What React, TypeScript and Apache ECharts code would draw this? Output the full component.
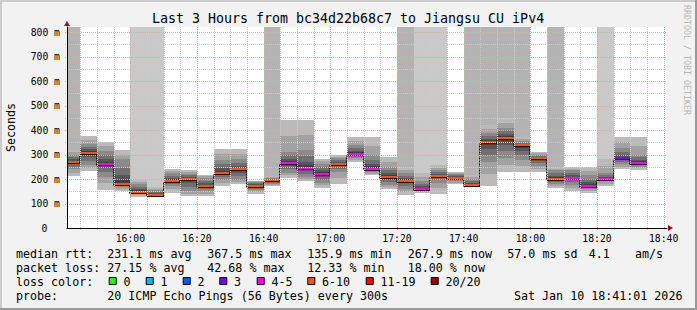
import React, { useEffect, useRef } from 'react';
import * as echarts from 'echarts';

const FONT = '"DejaVu Sans Mono", monospace';

// 5-minute bins (first one partial)
const binStarts = ['15:41','15:45','15:50','15:55','16:00','16:05','16:10','16:15','16:20','16:25','16:30','16:35','16:40','16:45','16:50','16:55','17:00','17:05','17:10','17:15','17:20','17:25','17:30','17:35','17:40','17:45','17:50','17:55','18:00','18:05','18:10','18:15','18:20','18:25','18:30'];
const lastBinEnd = '18:35';
const axisStart = '15:41';
const axisEnd = '18:41';

// values in ms
const medianRtt = [270,308,263,180,149,136,194,202,172,226,239,173,196,267,245,221,263,304,243,210,194,161,213,206,176,352,368,337,284,202,206,172,202,286,267];
const minRtt    = [213,234,156,150,128,128,145,131,131,173,179,138,170,206,190,165,180,271,217,161,136,142,139,179,167,173,230,230,230,165,153,142,173,240,237];
const lowerRtt  = [240,258,210,167,140,132,170,150,150,196,196,155,180,224,210,183,230,285,228,176,160,150,185,190,170,270,285,278,255,180,175,160,190,260,250];
const upperRtt  = [300,345,315,281,180,155,225,222,205,278,282,188,205,312,319,262,285,339,299,251,225,190,235,220,200,390,410,355,300,235,235,215,225,326,300];
const maxRtt    = [318,377,352,319,196,167,243,235,217,323,323,194,213,441,441,282,299,372,372,292,251,226,258,229,217,421,448,371,312,251,251,251,282,373,373];
// smoke of lost pings reaching the top: 0 none, 1 dark, 2 light
const lostSmoke = [1,0,0,0,2,2,0,0,0,0,0,0,1,0,0,0,0,0,0,0,1,2,2,0,1,1,1,1,0,1,0,0,2,0,0];
// index into lossLabels
const lossClass = [5,5,4,5,5,5,5,5,5,5,5,5,5,4,4,4,5,4,4,5,5,4,5,5,5,5,5,5,5,5,4,4,4,3,4];

const xTickLabels = ['16:00','16:20','16:40','17:00','17:20','17:40','18:00','18:20','18:40'];
const yTickValues = [0,100,200,300,400,500,600,700,800];

const lossLabels = ['0','1','2','3','4-5','6-10','11-19','20/20'];
const lossColors = ['#26ff00','#00b8ff','#0059ff','#7e00ff','#ff00ff','#ff5500','#ff0000','#a10000'];

const rttStats = ['231.1 ms avg','367.5 ms max','135.9 ms min','267.9 ms now','57.0 ms sd'];
const lossStats = ['27.15 % avg','42.68 % max','12.33 % min','18.00 % now'];
const amPerSec = '4.1';
const probeText = '20 ICMP Echo Pings (56 Bytes) every 300s';
const stampText = 'Sat Jan 10 18:41:01 2026';
const titleText = 'Last 3 Hours from bc34d22b68c7 to Jiangsu CU iPv4';

const toMin = (s: string) => { const [h, m] = s.split(':').map(Number); return h * 60 + m; };
const X_MIN = toMin(axisStart);
const X_MAX = toMin(axisEnd);
const Y_MAX = 821;

const smokeColors = ['#bababa', '#a2a2a2', '#8a8a8a', '#707070', '#565656', '#3e3e3e'];
const lostColors = ['', '#b3b3b3', '#c9c9c9'];

export default function App() {
  const ref = useRef<HTMLDivElement>(null);
  useEffect(() => {
    const chart = echarts.init(ref.current!, null, { renderer: 'svg' });

    const smokeData = binStarts.map((s, i) => [
      toMin(s),
      toMin(i + 1 < binStarts.length ? binStarts[i + 1] : lastBinEnd),
      minRtt[i], lowerRtt[i], medianRtt[i], upperRtt[i], maxRtt[i], lostSmoke[i], lossClass[i],
    ]);

    const gridData: number[][] = [];
    for (let t = toMin('15:45'); t <= toMin('18:40'); t += 5) gridData.push([t, 1, t % 20 === 0 ? 1 : 0]);
    for (let v = 50; v <= 800; v += 50) gridData.push([v, 0, v % 100 === 0 ? 1 : 0]);

    const tickMinutes = xTickLabels.map(toMin);

    const lx = [16, 107.3, 207.3, 307.3, 407.7, 507.3];
    const boxX = [108.7, 145.7, 182.7, 219.3, 256.7, 307.3, 365.7, 430.7];
    const legendFont = `11.67px ${FONT}`;
    const txt = (text: string, x: number, y: number, extra: any = {}) => ({
      type: 'text', x, y, silent: true,
      style: { text, font: legendFont, fill: '#000', textVerticalAlign: 'middle', ...extra },
    });

    const graphics: any[] = [
      // frame
      { type: 'rect', shape: { x: 0, y: 0, width: 697, height: 2 }, style: { fill: '#cbcbcb' } },
      { type: 'rect', shape: { x: 0, y: 0, width: 2, height: 310 }, style: { fill: '#cbcbcb' } },
      { type: 'rect', shape: { x: 0, y: 308, width: 697, height: 2 }, style: { fill: '#999999' } },
      { type: 'rect', shape: { x: 695, y: 0, width: 2, height: 310 }, style: { fill: '#999999' } },
      // arrows
      { type: 'polygon', z: 100, shape: { points: [[668, 225], [668, 231], [673, 228]] }, style: { fill: '#a01010' } },
      { type: 'polygon', z: 100, shape: { points: [[64, 26], [70, 26], [67, 21]] }, style: { fill: '#a01010' } },
      // watermark
      { type: 'text', x: 687, y: 60, rotation: -Math.PI / 2, silent: true,
        style: { text: 'RRDTOOL / TOBI OETIKER', font: `8.3px ${FONT}`, fill: '#b8b8b8', textAlign: 'center', textVerticalAlign: 'middle' } },
      // title
      { type: 'text', x: 348, y: 18.5, silent: true,
        style: { text: titleText, font: `13.3px ${FONT}`, fill: '#000', textAlign: 'center', textVerticalAlign: 'middle' } },
      // legend line 1
      txt('median rtt:', lx[0], 254),
      ...rttStats.map((s, i) => txt(s, lx[i + 1], 254)),
      txt(amPerSec, 588.7, 254),
      txt('am/s', 635, 254),
      // line 2
      txt('packet loss:', lx[0], 268),
      ...lossStats.map((s, i) => txt(s, lx[i + 1], 268)),
      // line 3
      txt('loss color:', lx[0], 282),
      ...lossLabels.map((l, i) => ({
        type: 'rect', shape: { x: boxX[i] + 0.5, y: 277.5, width: 7, height: 7 },
        style: { fill: lossColors[i], stroke: '#000', lineWidth: 1 },
      })),
      ...lossLabels.map((l, i) => txt(l, boxX[i] + 14.7, 282)),
      // line 4
      txt('probe:', lx[0], 296),
      txt(probeText, lx[1], 296),
      txt(stampText, 514, 296),
    ];

    const option: any = {
      animation: false,
      backgroundColor: '#f2f2f2',
      grid: {
        left: 67, top: 27, width: 600, height: 201, show: true, backgroundColor: '#ffffff', borderWidth: 0,
        containLabel: false, outerBoundsMode: 'none',
      },
      xAxis: {
        type: 'value', min: X_MIN, max: X_MAX, interval: 1, z: 10,
        axisLine: { show: true, lineStyle: { color: '#000', width: 1 } },
        axisTick: { show: false },
        splitLine: { show: false },
        axisLabel: {
          showMinLabel: false, showMaxLabel: false, hideOverlap: false,
          formatter: (v: number) => { const i = tickMinutes.indexOf(Math.round(v)); return i >= 0 ? xTickLabels[i] : ''; },
          fontFamily: FONT, fontSize: 9.75, color: '#000', margin: 5,
        },
      },
      yAxis: {
        type: 'value', min: 0, max: Y_MAX, interval: 100, z: 10,
        name: 'Seconds', nameLocation: 'middle', nameGap: 50, nameRotate: 90,
        nameTextStyle: { fontFamily: FONT, fontSize: 11.67, color: '#000' },
        axisLine: { show: true, lineStyle: { color: '#000', width: 1 } },
        axisTick: { show: false },
        splitLine: { show: false },
        axisLabel: {
          showMaxLabel: false,
          formatter: (v: number) => {
            if (yTickValues.indexOf(v) < 0) return '';
            return v === 0 ? '{z|0}' : `${v} m`;
          },
          rich: { z: { fontFamily: FONT, fontSize: 9.75, color: '#000', padding: [0, 12.7, 0, 0] } },
          fontFamily: FONT, fontSize: 9.75, color: '#000', margin: 7,
        },
      },
      series: [
        {
          type: 'custom', name: 'smoke', z: 2, silent: true,
          data: smokeData,
          encode: { x: [0, 1], y: [2, 6] },
          renderItem: (params: any, api: any) => {
            const i = params.dataIndex;
            const t0 = api.value(0), t1 = api.value(1);
            const x0 = Math.round(api.coord([t0, 0])[0]);
            const x1 = Math.round(api.coord([t1, 0])[0]);
            const w = x1 - x0;
            const Y = (v: number) => api.coord([t0, v])[1];
            const lo = api.value(2), q1 = api.value(3), md = api.value(4), q3 = api.value(5), hi = api.value(6);
            const lost = api.value(7), lc = api.value(8);
            const band = (a: number, b: number, fill: string) => {
              const ya = Math.round(Y(a)), yb = Math.round(Y(b));
              return { type: 'rect', shape: { x: x0, y: yb, width: w, height: Math.max(1, ya - yb) }, style: { fill } };
            };
            const mix = (a: number, b: number, f: number) => a + (b - a) * f;
            const ch: any[] = [];
            if (lost) ch.push(band(hi, Y_MAX, lostColors[lost]));
            ch.push(band(lo, hi, smokeColors[0]));
            ch.push(band(mix(lo, q1, 0.5), mix(hi, q3, 0.5), smokeColors[1]));
            ch.push(band(q1, q3, smokeColors[2]));
            ch.push(band(mix(q1, md, 0.35), mix(q3, md, 0.35), smokeColors[3]));
            ch.push(band(mix(q1, md, 0.65), mix(q3, md, 0.65), smokeColors[4]));
            ch.push(band(mix(q1, md, 0.85), mix(q3, md, 0.85), smokeColors[5]));
            const ym = Math.round(Y(md));
            ch.push({ type: 'rect', shape: { x: x0, y: ym - 1, width: w, height: 2 }, style: { fill: lossColors[lc] } });
            ch.push({ type: 'rect', shape: { x: x0, y: ym + 1, width: w, height: 1 }, style: { fill: '#111111' } });
            if (i > 0) {
              const yp = Math.round(Y(medianRtt[i - 1]));
              ch.push({ type: 'line', shape: { x1: x0 - 0.5, y1: yp + 1.5, x2: x0 - 0.5, y2: ym + 1.5 },
                style: { stroke: '#111111', lineWidth: 1, lineDash: [2, 1] } });
            }
            return { type: 'group', children: ch };
          },
        },
        {
          type: 'custom', name: 'grid', z: 3, silent: true,
          data: gridData,
          renderItem: (params: any, api: any) => {
            const v = api.value(0), isX = api.value(1), major = api.value(2);
            const stroke = major ? '#f2a0a0' : '#cccccc';
            const bottom = api.coord([X_MIN, 0]);
            const top = api.coord([X_MAX, Y_MAX]);
            if (isX) {
              const x = Math.round(api.coord([v, 0])[0]) + 0.5;
              return { type: 'line', shape: { x1: x, y1: bottom[1] + 2, x2: x, y2: top[1] },
                style: { stroke, lineWidth: 1, lineDash: [1, 1] } };
            }
            const y = Math.round(api.coord([X_MIN, v])[1]) + 0.5;
            return { type: 'line', shape: { x1: bottom[0] - 2, y1: y, x2: top[0], y2: y },
              style: { stroke, lineWidth: 1, lineDash: [1, 1] } };
          },
        },
      ],
      graphic: graphics,
    };

    chart.setOption(option);
    return () => chart.dispose();
  }, []);

  return <div ref={ref} style={{ position: 'fixed', left: 0, top: 0, width: 697, height: 310 }} />;
}
